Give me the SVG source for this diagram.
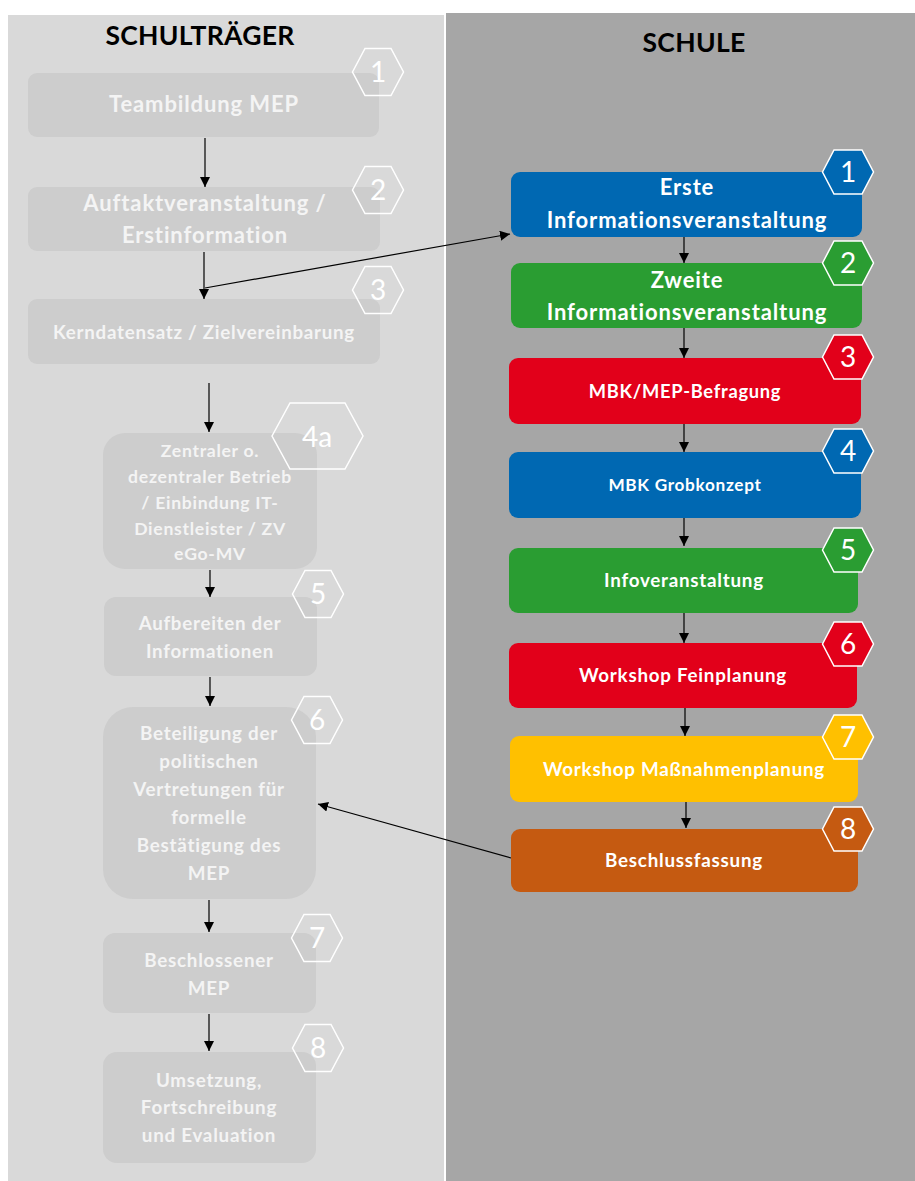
<svg xmlns="http://www.w3.org/2000/svg" xmlns:xlink="http://www.w3.org/1999/xlink" width="915" height="1181" viewBox="0 0 915 1181">
<style>
.t{font-family:Lato,"Open Sans","Liberation Sans",sans-serif;font-weight:bold;text-anchor:middle;letter-spacing:0.04em}
.lt{fill:#f4f4f4}
.rt{fill:#ffffff}
.lb{fill:#cdcdcd}
.hl{fill:none;stroke:#ffffff;stroke-width:1.5}
.hr{stroke:#ffffff;stroke-width:1.5}
.hn{font-family:Lato,"Open Sans","Liberation Sans",sans-serif;font-weight:normal;text-anchor:middle;fill:#ffffff;font-size:28px}
.c{stroke:#000;stroke-width:1.2;fill:none;marker-end:url(#ah)}
</style>
<defs>
<marker id="ah" viewBox="0 0 10 10" refX="10" refY="5" markerWidth="10" markerHeight="10" markerUnits="userSpaceOnUse" orient="auto">
<path d="M0,0 L10,5 L0,10 z" fill="#000"/>
</marker>
<polygon id="hexL" points="-25.5,0 -13,-23.5 13,-23.5 25.5,0 13,23.5 -13,23.5"/>
<polygon id="hexR" points="-25.5,0 -14,-22 14,-22 25.5,0 14,22 -14,22"/>
</defs>

<rect x="8" y="15" width="436" height="1166" fill="#d9d9d9"/>
<rect x="446" y="13" width="469" height="1168" fill="#a6a6a6"/>

<text class="t" x="200" y="45" font-size="26.5" fill="#000" style="letter-spacing:0.3px">SCHULTRÄGER</text>
<text class="t" x="694" y="52" font-size="26.5" fill="#000" style="letter-spacing:0.3px">SCHULE</text>

<g id="connectors">
<line class="c" x1="205" y1="138" x2="205" y2="187"/>
<line class="c" x1="204" y1="252" x2="204" y2="299"/>
<line class="c" x1="205" y1="288" x2="510" y2="234"/>
<line class="c" x1="209" y1="383" x2="209" y2="432"/>
<line class="c" x1="210" y1="570" x2="210" y2="597"/>
<line class="c" x1="210" y1="677" x2="210" y2="706"/>
<line class="c" x1="511" y1="858" x2="318" y2="804"/>
<line class="c" x1="209" y1="900" x2="209" y2="932"/>
<line class="c" x1="209" y1="1014" x2="209" y2="1051"/>
<line class="c" x1="684" y1="237" x2="684" y2="263"/>
<line class="c" x1="684" y1="328" x2="684" y2="358"/>
<line class="c" x1="684" y1="424" x2="684" y2="452"/>
<line class="c" x1="684" y1="518" x2="684" y2="546"/>
<line class="c" x1="684" y1="613" x2="684" y2="643"/>
<line class="c" x1="685" y1="708" x2="685" y2="736"/>
<line class="c" x1="686" y1="796" x2="686" y2="828"/>
</g>

<g id="l1">
<rect class="lb" x="28" y="73" width="351" height="64" rx="9"/>
<text class="t lt" x="204" y="112" font-size="22">Teambildung MEP</text>
<use xlink:href="#hexL" x="378" y="72" class="hl"/>
<text class="hn" x="378" y="82">1</text>
</g>
<g id="l2">
<rect class="lb" x="28" y="187" width="352" height="64" rx="9"/>
<text class="t lt" x="205" y="211" font-size="22">Auftaktveranstaltung /</text>
<text class="t lt" x="205" y="243" font-size="22">Erstinformation</text>
<use xlink:href="#hexL" x="378" y="190" class="hl"/>
<text class="hn" x="378" y="200">2</text>
</g>
<g id="l3">
<rect class="lb" x="28" y="299" width="352" height="65" rx="9"/>
<text class="t lt" x="204" y="339" font-size="18.7">Kerndatensatz / Zielvereinbarung</text>
<use xlink:href="#hexL" x="378" y="290" class="hl"/>
<text class="hn" x="378" y="300">3</text>
</g>
<g id="l4a">
<rect class="lb" x="103" y="433" width="214" height="136" rx="22"/>
<text class="t lt" x="210" y="457" font-size="17.6">Zentraler o.</text>
<text class="t lt" x="210" y="483" font-size="17.6">dezentraler Betrieb</text>
<text class="t lt" x="210" y="509" font-size="17.6">/ Einbindung IT-</text>
<text class="t lt" x="210" y="535" font-size="17.6">Dienstleister / ZV</text>
<text class="t lt" x="210" y="560" font-size="17.6">eGo-MV</text>
<polygon points="272,436 290,403 345,403 363,436 345,469 290,469" class="hl"/>
<text class="hn" x="317" y="447" font-size="30">4a</text>
</g>
<g id="l5">
<rect class="lb" x="104" y="597" width="213" height="79" rx="12"/>
<text class="t lt" x="210" y="630" font-size="18.7">Aufbereiten der</text>
<text class="t lt" x="210" y="658" font-size="18.7">Informationen</text>
<use xlink:href="#hexL" x="318" y="594" class="hl"/>
<text class="hn" x="318" y="604">5</text>
</g>
<g id="l6">
<rect class="lb" x="103" y="707" width="213" height="192" rx="30"/>
<text class="t lt" x="209" y="740" font-size="18.8">Beteiligung der</text>
<text class="t lt" x="209" y="768" font-size="18.8">politischen</text>
<text class="t lt" x="209" y="796" font-size="18.8">Vertretungen für</text>
<text class="t lt" x="209" y="824" font-size="18.8">formelle</text>
<text class="t lt" x="209" y="852" font-size="18.8">Bestätigung des</text>
<text class="t lt" x="209" y="880" font-size="18.8">MEP</text>
<use xlink:href="#hexL" x="317" y="720" class="hl"/>
<text class="hn" x="317" y="730">6</text>
</g>
<g id="l7">
<rect class="lb" x="103" y="933" width="213" height="80" rx="12"/>
<text class="t lt" x="209" y="967" font-size="18.8">Beschlossener</text>
<text class="t lt" x="209" y="995" font-size="18.8">MEP</text>
<use xlink:href="#hexL" x="317" y="938" class="hl"/>
<text class="hn" x="317" y="948">7</text>
</g>
<g id="l8">
<rect class="lb" x="103" y="1052" width="213" height="111" rx="14"/>
<text class="t lt" x="209" y="1087" font-size="18.8">Umsetzung,</text>
<text class="t lt" x="209" y="1114" font-size="18.8">Fortschreibung</text>
<text class="t lt" x="209" y="1142" font-size="18.8">und Evaluation</text>
<use xlink:href="#hexL" x="318" y="1048" class="hl"/>
<text class="hn" x="318" y="1058">8</text>
</g>

<g id="r1">
<rect x="511" y="172" width="351" height="65" rx="9" fill="#0068b2"/>
<text class="t rt" x="687" y="195" font-size="22">Erste</text>
<text class="t rt" x="687" y="228" font-size="22">Informationsveranstaltung</text>
<use xlink:href="#hexR" x="848" y="172" fill="#0068b2" class="hr"/>
<text class="hn" x="848" y="182">1</text>
</g>
<g id="r2">
<rect x="511" y="263" width="351" height="65" rx="9" fill="#2a9d32"/>
<text class="t rt" x="687" y="288" font-size="22">Zweite</text>
<text class="t rt" x="687" y="320" font-size="22">Informationsveranstaltung</text>
<use xlink:href="#hexR" x="848" y="263" fill="#2a9d32" class="hr"/>
<text class="hn" x="848" y="273">2</text>
</g>
<g id="r3">
<rect x="509" y="358" width="352" height="66" rx="9" fill="#e2001a"/>
<text class="t rt" x="685" y="398" font-size="18.3">MBK/MEP-Befragung</text>
<use xlink:href="#hexR" x="848" y="357" fill="#e2001a" class="hr"/>
<text class="hn" x="848" y="367">3</text>
</g>
<g id="r4">
<rect x="509" y="452" width="352" height="66" rx="9" fill="#0068b2"/>
<text class="t rt" x="685" y="491" font-size="17.2">MBK Grobkonzept</text>
<use xlink:href="#hexR" x="848" y="451" fill="#0068b2" class="hr"/>
<text class="hn" x="848" y="461">4</text>
</g>
<g id="r5">
<rect x="509" y="548" width="349" height="65" rx="9" fill="#2a9d32"/>
<text class="t rt" x="684" y="587" font-size="18.8">Infoveranstaltung</text>
<use xlink:href="#hexR" x="848" y="550" fill="#2a9d32" class="hr"/>
<text class="hn" x="848" y="560">5</text>
</g>
<g id="r6">
<rect x="509" y="643" width="348" height="65" rx="9" fill="#e2001a"/>
<text class="t rt" x="683" y="682" font-size="18.8">Workshop Feinplanung</text>
<use xlink:href="#hexR" x="848" y="644" fill="#e2001a" class="hr"/>
<text class="hn" x="848" y="654">6</text>
</g>
<g id="r7">
<rect x="510" y="736" width="348" height="66" rx="9" fill="#ffc000"/>
<text class="t rt" x="684" y="776" font-size="18.8">Workshop Maßnahmenplanung</text>
<use xlink:href="#hexR" x="848" y="737" fill="#ffc000" class="hr"/>
<text class="hn" x="848" y="747">7</text>
</g>
<g id="r8">
<rect x="511" y="829" width="347" height="63" rx="9" fill="#c55a11"/>
<text class="t rt" x="684" y="867" font-size="18.8">Beschlussfassung</text>
<use xlink:href="#hexR" x="848" y="829" fill="#c55a11" class="hr"/>
<text class="hn" x="848" y="839">8</text>
</g>
</svg>
